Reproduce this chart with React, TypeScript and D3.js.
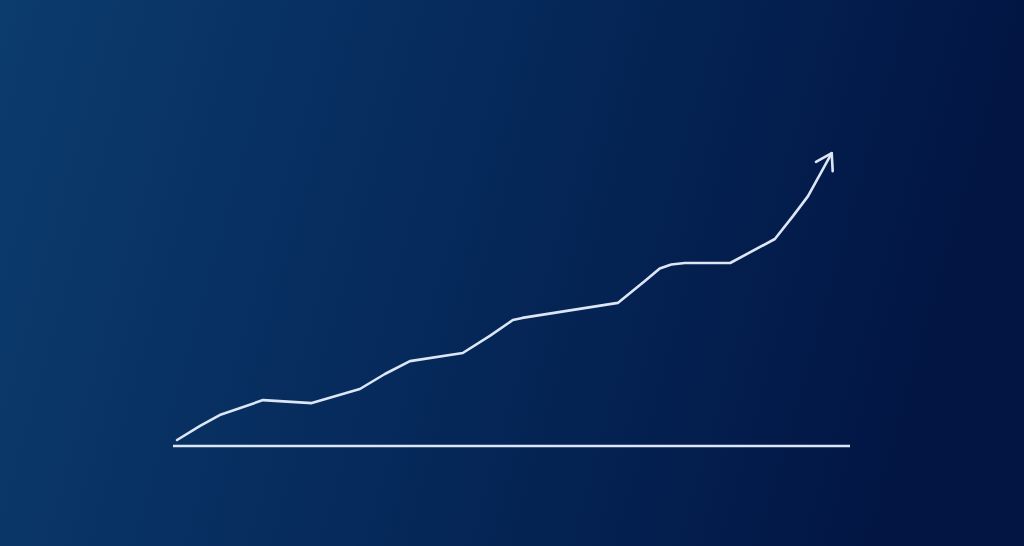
import React from "react";
import * as d3 from "d3";

const W = 1024;
const H = 546;

// growth series (x: time 0..100, y: value 0..100)
const times = [0.6, 4, 6.9, 13.3, 20.5, 27.6, 31.3, 35, 42.8, 46.8, 50.2, 51.6, 65.7, 69.7, 71.9, 73.6, 75.6, 82.3, 88.9, 91.6, 93.8, 97.3];
const values = [2, 6.7, 10.3, 15.3, 14.3, 19, 24, 28.3, 31, 36.7, 42, 42.7, 47.7, 55, 59.2, 60.5, 61, 61, 69, 76.7, 83.3, 97.6];
const xDomain = [0, 100];
const yDomain = [0, 100];

export default function App() {
  const x = d3.scaleLinear().domain(xDomain).range([173, 850]);
  const y = d3.scaleLinear().domain(yDomain).range([446, 146]);
  const pts: [number, number][] = times.map((t, i) => [t, values[i]]);
  const line = d3
    .line<[number, number]>()
    .x((d) => x(d[0]))
    .y((d) => y(d[1]))
    .curve(d3.curveLinear);

  // arrow head direction from last segment
  const n = pts.length;
  const x1 = x(pts[n - 2][0]), y1 = y(pts[n - 2][1]);
  const x2 = x(pts[n - 1][0]), y2 = y(pts[n - 1][1]);
  const ang = Math.atan2(y2 - y1, x2 - x1);
  const L = 18;
  const spread = (32 * Math.PI) / 180;
  const wing1: [number, number] = [x2 - L * Math.cos(ang - spread), y2 - L * Math.sin(ang - spread)];
  const wing2: [number, number] = [x2 - L * Math.cos(ang + spread), y2 - L * Math.sin(ang + spread)];
  const head = d3.line()([wing1, [x2, y2], wing2]) || "";

  const stroke = "#dde6f6";

  return (
    <svg
      width={W}
      height={H}
      style={{ position: "fixed", left: 0, top: 0, display: "block" }}
    >
      <defs>
        <linearGradient id="bg" x1="0" y1="0" x2="1" y2="0.15">
          <stop offset="0%" stopColor="#0c3b6d" />
          <stop offset="50%" stopColor="#05295a" />
          <stop offset="100%" stopColor="#021543" />
        </linearGradient>
      </defs>
      <rect x={0} y={0} width={W} height={H} fill="url(#bg)" />
      <line
        x1={x(xDomain[0])}
        x2={x(xDomain[1])}
        y1={y(yDomain[0])}
        y2={y(yDomain[0])}
        stroke={stroke}
        strokeWidth={2.5}
      />
      <path
        d={line(pts) || ""}
        fill="none"
        stroke={stroke}
        strokeWidth={2.6}
        strokeLinecap="round"
        strokeLinejoin="round"
      />
      <path
        d={head}
        fill="none"
        stroke={stroke}
        strokeWidth={2.6}
        strokeLinecap="round"
        strokeLinejoin="round"
      />
    </svg>
  );
}
